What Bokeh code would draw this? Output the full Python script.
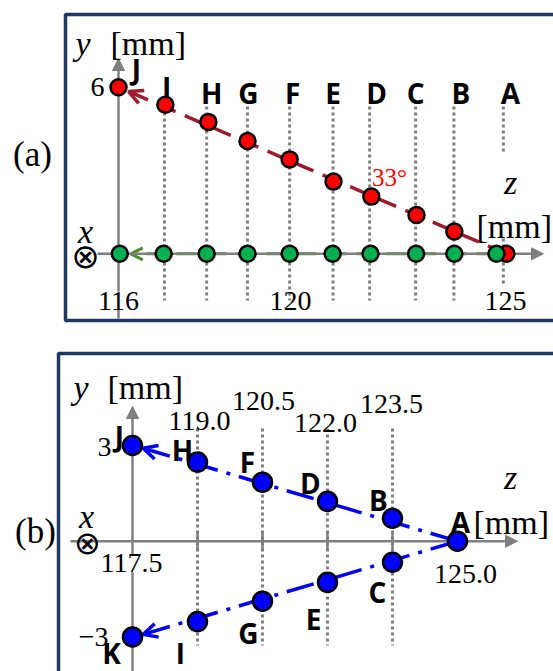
import math
from bokeh.plotting import figure
from bokeh.layouts import column
from bokeh.models import Range1d, Arrow, OpenHead, NormalHead
from bokeh.core.properties import value
from bokeh.embed import file_html
from bokeh.resources import INLINE

# ---------------- data: panel (a) ----------------
labels_a = ["J", "I", "H", "G", "F", "E", "D", "C", "B", "A"]
z_a_red = [116.0, 117.09, 118.09, 119.0, 119.98, 121.0, 121.88, 122.93, 123.81, 125.02]
y_a_red = [6.0, 5.37, 4.75, 4.06, 3.40, 2.60, 2.06, 1.40, 0.80, 0.0]
z_a_green = [116.03, 117.05, 118.05, 119.0, 119.98, 120.98, 121.86, 122.92, 123.81, 124.79]
y_a_green = [0.0, 0.0, 0.0, 0.0, 0.0, 0.0, 0.0, 0.0, 0.0, 0.0]
z_a_guides = [117.07, 118.05, 119.0, 119.98, 120.99, 121.84, 122.91, 123.80, 124.95]
ticks_a = [116, 120, 125]
tick_labels_a = ["116", "120", "125"]
ytick_a = 6
angle_text = "33°"

# ---------------- data: panel (b) ----------------
labels_b_up = ["J", "H", "F", "D", "B", "A"]
z_b_up = [117.5, 119.0, 120.5, 122.0, 123.5, 125.0]
y_b_up = [3.0, 2.48, 1.85, 1.25, 0.72, 0.0]
labels_b_low = ["C", "E", "G", "I", "K"]
z_b_low = [125.0, 123.5, 122.0, 120.5, 119.0, 117.5]
y_b_low = [0.0, -0.66, -1.29, -1.88, -2.52, -3.0]
ticks_b = [119.0, 120.5, 122.0, 123.5]
tick_labels_b = ["119.0", "120.5", "122.0", "123.5"]
end_ticks_b = [117.5, 125.0]
end_tick_labels_b = ["117.5", "125.0"]
yticks_b = [3, -3]
ytick_labels_b = ["3", "\u22123"]

# ---------------- styles ----------------
SERIF = "Liberation Serif"
SANS = "Open Sans"
GRAY = "#7f7f7f"
NAVY = "#1f3864"
DARKRED = "#9e1a2e"
GREEN_LINE = "#4e8a2e"
W = 553
HA, HB = 333, 338
LEFT = 0
TICK_FS = 28


def make_fig(org_px, org_py, z0, sx, sy, top, h):
    xr = Range1d(z0 + (LEFT - org_px) / sx, z0 + (LEFT + W - org_px) / sx)
    yr = Range1d((org_py - (top + h)) / sy, (org_py - top) / sy)
    p = figure(width=W, height=h, x_range=xr, y_range=yr,
               output_backend="svg", toolbar_location=None,
               x_axis_location=None, y_axis_location=None,
               min_border=0, outline_line_color=None,
               background_fill_color="white", border_fill_color="white")
    p.grid.visible = False

    def to_data(px, py):
        return z0 + (px - org_px) / sx, (org_py - py) / sy
    return p, to_data


def txt(p, x, y, t, size, font=SERIF, style="normal", color="black",
        align="center", baseline="middle", xo=0, yo=0, bg=None):
    kw = {}
    if bg is not None:
        kw = dict(background_fill_color=bg)
    p.text(x=[x], y=[y], text=[t], text_font=value(font),
           text_font_size=value(f"{size}px"), text_font_style=style,
           text_color=color, text_align=align, text_baseline=baseline,
           x_offset=xo, y_offset=yo, **kw)


def toward(x_from, y_from, x_to, y_to, dist, sx, sy):
    dx = (x_from - x_to) * sx
    dy = (y_from - y_to) * sy
    L = math.hypot(dx, dy)
    return x_to + dx / L * dist / sx, y_to + dy / L * dist / sy


def axis_arrow(p, x0, y0, x1, y1):
    p.add_layout(Arrow(end=NormalHead(size=12, fill_color=GRAY, line_color=GRAY, line_width=1),
                       x_start=x0, y_start=y0, x_end=x1, y_end=y1,
                       line_color=GRAY, line_width=2.5, level="underlay"))


# ======================= panel (a) =======================
SXA, SYA = 43.0, 27.77
pa, A = make_fig(118, 253.3, ticks_a[0], SXA, SYA, 0, HA)

# green path arrow (under the axis line)
gx, gy = toward(z_a_green[1], y_a_green[1], z_a_green[0], y_a_green[0], 11, SXA, SYA)
pa.add_layout(Arrow(end=OpenHead(size=12, line_color=GREEN_LINE, line_width=3),
                    x_start=z_a_green[-1], y_start=y_a_green[-1], x_end=gx, y_end=gy,
                    line_color=GREEN_LINE, line_width=3, line_dash="20 10", level="underlay"))

# axes
_, y0 = A(0, 318)
_, y1 = A(0, 58)
axis_arrow(pa, ticks_a[0], y0, ticks_a[0], y1)
xa0, _ = A(97, 0)
xa1, _ = A(543, 0)
axis_arrow(pa, xa0, 0, xa1, 0)

# red path arrow
rx, ry = toward(z_a_red[-1], y_a_red[-1], z_a_red[0], y_a_red[0], 11, SXA, SYA)
pa.add_layout(Arrow(end=OpenHead(size=14, line_color=DARKRED, line_width=3.5),
                    x_start=z_a_red[-1], y_start=y_a_red[-1], x_end=rx, y_end=ry,
                    line_color=DARKRED, line_width=3.5, line_dash="20 10", level="underlay"))

# dotted guides
g_top = A(0, 106)[1]
g_bot = [A(0, 300)[1]] * (len(z_a_guides) - 1) + [A(0, 283)[1]]
pa.segment(x0=z_a_guides, y0=[g_top] * len(z_a_guides), x1=z_a_guides, y1=g_bot,
           line_color=GRAY, line_width=3, line_dash="3 3")

# white box behind z label
bl, bt = A(495, 152)
br, bb = A(570, 235)
pa.quad(left=[bl], right=[br], top=[bt], bottom=[bb], fill_color="white", line_color=None)

# points
pa.scatter(z_a_red, y_a_red, size=16, fill_color="#ff0000", line_color="black", line_width=2.5)
pa.scatter(z_a_green, y_a_green, size=16, fill_color="#00b050", line_color="black", line_width=2.5)

# letters
pa.text(x=z_a_guides, y=[g_top] * len(z_a_guides), text=labels_a[1:],
        text_font=value(SANS), text_font_size=value("28px"), text_font_style="bold",
        text_align="center", text_baseline="middle",
        x_offset=[2, 5, 1, 3, 0, 7, 0, 7, 7], y_offset=[-20, -14, -14, -14, -14, -14, -14, -14, -14])
txt(pa, z_a_red[0], y_a_red[0], labels_a[0], 28, font=SANS, style="bold", xo=18, yo=-18)

# tick labels
for t, lab in zip(ticks_a, tick_labels_a):
    txt(pa, t, 0, lab, TICK_FS, xo=0, yo=47, bg="white" if t == ticks_a[0] else None)
txt(pa, ticks_a[0], ytick_a, str(ytick_a), TICK_FS, align="right", xo=-14)

# axis titles and decorations
ax, ay = A(75, 43)
txt(pa, ax, ay, "y", 34, style="italic", align="left")
ax, ay = A(110, 43)
txt(pa, ax, ay, "[mm]", 34, align="left")
ax, ay = A(510, 182)
txt(pa, ax, ay, "z", 34, style="italic")
ax, ay = A(476, 226)
txt(pa, ax, ay, "[mm]", 34, align="left")
ax, ay = A(85, 231)
txt(pa, ax, ay, "x", 34, style="italic")
ax, ay = A(85, 255)
txt(pa, ax, ay, "\u2297", 34, font="DejaVu Sans")
ax, ay = A(389, 177)
txt(pa, ax, ay, angle_text, 25, color="#ff0000")
ax, ay = A(32, 154)
txt(pa, ax, ay, "(a)", 35)

# frame
fl, ft = A(65, 14)
fr, fb = A(600, 320)
pa.quad(left=[fl], right=[fr], top=[ft], bottom=[fb], fill_color=None,
        line_color=NAVY, line_width=3.5)

# ======================= panel (b) =======================
SXB, SYB = 43.33, 31.9
pb, B = make_fig(132, 540.7 - HA, end_ticks_b[0], SXB, SYB, 0, HB)

_, yb0 = B(0, 690 - HA)
_, yb1 = B(0, 406 - HA)
axis_arrow(pb, end_ticks_b[0], yb0, end_ticks_b[0], yb1)
xb0, _ = B(70, 0)
xb1, _ = B(517, 0)
axis_arrow(pb, xb0, 0, xb1, 0)

# axis ticks
tk = 9 / SYB
pb.segment(x0=ticks_b, y0=[tk] * len(ticks_b), x1=ticks_b, y1=[-tk] * len(ticks_b),
           line_color=GRAY, line_width=2.5)

# dotted guides
gb_top = B(0, 428 - HA)[1]
gb_bot = B(0, 645 - HA)[1]
pb.segment(x0=ticks_b, y0=[gb_top] * len(ticks_b), x1=ticks_b, y1=[gb_bot] * len(ticks_b),
           line_color=GRAY, line_width=3, line_dash="3 3")

# blue arrows
BLUE = "#0000ff"
ux, uy = toward(z_b_up[1], y_b_up[1], z_b_up[0], y_b_up[0], 11, SXB, SYB)
pb.add_layout(Arrow(end=OpenHead(size=14, line_color=BLUE, line_width=3.5),
                    x_start=z_b_up[-1], y_start=y_b_up[-1], x_end=ux, y_end=uy,
                    line_color=BLUE, line_width=3.5, line_dash="28 9 4 9", level="underlay"))
lx, ly = toward(z_b_low[-2], y_b_low[-2], z_b_low[-1], y_b_low[-1], 11, SXB, SYB)
pb.add_layout(Arrow(end=OpenHead(size=14, line_color=BLUE, line_width=3.5),
                    x_start=z_b_low[0], y_start=y_b_low[0], x_end=lx, y_end=ly,
                    line_color=BLUE, line_width=3.5, line_dash="28 9 4 9", level="underlay"))

# tick labels
pb.text(x=ticks_b, y=[gb_top] * len(ticks_b), text=tick_labels_b,
        text_font=value(SERIF), text_font_size=value(f"{TICK_FS}px"),
        text_align="center", text_baseline="middle",
        x_offset=[2, 1, -2, -1], y_offset=[-8, -28, -6, -25])
txt(pb, end_ticks_b[0], 0, end_tick_labels_b[0], TICK_FS, xo=-1, yo=22, bg="white")
txt(pb, end_ticks_b[1], 0, end_tick_labels_b[1], TICK_FS, xo=8, yo=33)
txt(pb, end_ticks_b[0], yticks_b[0], ytick_labels_b[0], TICK_FS, align="right", xo=-21, yo=1)
txt(pb, end_ticks_b[0], yticks_b[1], ytick_labels_b[1], TICK_FS, align="right", xo=-24, yo=0)

# points
pb.scatter(z_b_up, y_b_up, size=19, fill_color=BLUE, line_color="black", line_width=2.5)
pb.scatter(z_b_low[1:], y_b_low[1:], size=19, fill_color=BLUE, line_color="black", line_width=2.5)

# letters
pb.text(x=z_b_up, y=y_b_up, text=labels_b_up,
        text_font=value(SANS), text_font_size=value("28px"), text_font_style="bold",
        text_align="center", text_baseline="middle",
        x_offset=[-13, -15, -15, -17, -14, 3], y_offset=[-10, -12, -20, -18, -18, -19])
pb.text(x=z_b_low[1:], y=y_b_low[1:], text=labels_b_low,
        text_font=value(SANS), text_font_size=value("28px"), text_font_style="bold",
        text_align="center", text_baseline="middle",
        x_offset=[-15, -14, -14, -17, -21], y_offset=[30, 37, 32, 31, 16])

# titles
bx, by = B(73, 387 - HA)
txt(pb, bx, by, "y", 34, style="italic", align="left")
bx, by = B(107, 387 - HA)
txt(pb, bx, by, "[mm]", 34, align="left")
bx, by = B(510, 477 - HA)
txt(pb, bx, by, "z", 34, style="italic")
bx, by = B(473, 522 - HA)
txt(pb, bx, by, "[mm]", 34, align="left")
bx, by = B(86, 516 - HA)
txt(pb, bx, by, "x", 34, style="italic")
bx, by = B(87, 542 - HA)
txt(pb, bx, by, "\u2297", 32, font="DejaVu Sans")
bx, by = B(35, 531 - HA)
txt(pb, bx, by, "(b)", 35)

# frame
fl, ft = B(58, 353 - HA)
fr, fb = B(600, 720 - HA)
pb.quad(left=[fl], right=[fr], top=[ft], bottom=[fb], fill_color=None,
        line_color=NAVY, line_width=3.5)

layout = column(pa, pb, spacing=0)
open("out.html", "w").write(file_html(layout, INLINE))
